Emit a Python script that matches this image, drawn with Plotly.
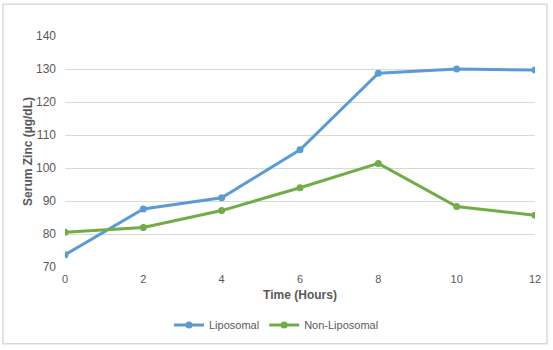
import plotly.graph_objects as go

# Serum zinc concentration over time
hours = [0, 2, 4, 6, 8, 10, 12]
liposomal = [73.7, 87.6, 91.0, 105.5, 128.7, 130.0, 129.7]
non_liposomal = [80.5, 82.0, 87.1, 94.0, 101.4, 88.3, 85.7]
y_ticks = [70, 80, 90, 100, 110, 120, 130, 140]

W, H = 553, 350
ML, MR, MT, MB = 65, 18, 36, 82
PW, PH = W - ML - MR, H - MT - MB


def px_to_paper_x(px):
    return (px - ML) / PW


def px_to_paper_y(py):
    return (H - MB - py) / PH


BLUE = "#5B9BD5"
GREEN = "#70AD47"
TEXT = "#595959"
FONT = "Liberation Sans"

fig = go.Figure()
fig.add_trace(go.Scatter(
    x=hours, y=liposomal, name="Liposomal", mode="lines+markers",
    line=dict(color=BLUE, width=3), marker=dict(color=BLUE, size=7),
))
fig.add_trace(go.Scatter(
    x=hours, y=non_liposomal, name="Non-Liposomal", mode="lines+markers",
    line=dict(color=GREEN, width=3), marker=dict(color=GREEN, size=7),
))

fig.update_layout(
    width=W, height=H,
    margin=dict(l=ML, r=MR, t=MT, b=MB),
    paper_bgcolor="white", plot_bgcolor="white",
    font=dict(family=FONT, size=11, color=TEXT),
    showlegend=True,
    legend=dict(
        orientation="h", xanchor="center", yanchor="middle",
        x=px_to_paper_x(W / 2), y=px_to_paper_y(325),
        font=dict(size=11, color=TEXT), itemwidth=30,
        tracegroupgap=0,
    ),
    xaxis=dict(
        range=[0, 12], tickvals=hours, ticktext=[str(h) for h in hours],
        showgrid=False, zeroline=False, showline=False,
        ticks="", ticklen=0, ticklabelstandoff=4,
        tickfont=dict(size=11, color=TEXT),
        title=dict(text="<b>Time (Hours)</b>", font=dict(size=12, color=TEXT), standoff=6),
    ),
    yaxis=dict(
        range=[70, 140], tickvals=y_ticks,
        showgrid=True, gridcolor="#D9D9D9", gridwidth=1,
        zeroline=False, showline=False, ticks="", ticklabelstandoff=8,
        tickfont=dict(size=12, color=TEXT),
        title=dict(text="<b>Serum Zinc (µg/dL)</b>", font=dict(size=12, color=TEXT), standoff=0),
    ),
    shapes=[dict(
        type="rect", xref="paper", yref="paper",
        x0=px_to_paper_x(3), x1=px_to_paper_x(547),
        y0=px_to_paper_y(345), y1=px_to_paper_y(4),
        line=dict(color="#D9D9D9", width=1.5), fillcolor="rgba(0,0,0,0)",
        layer="below",
    )],
)

fig.write_html("out.html")
